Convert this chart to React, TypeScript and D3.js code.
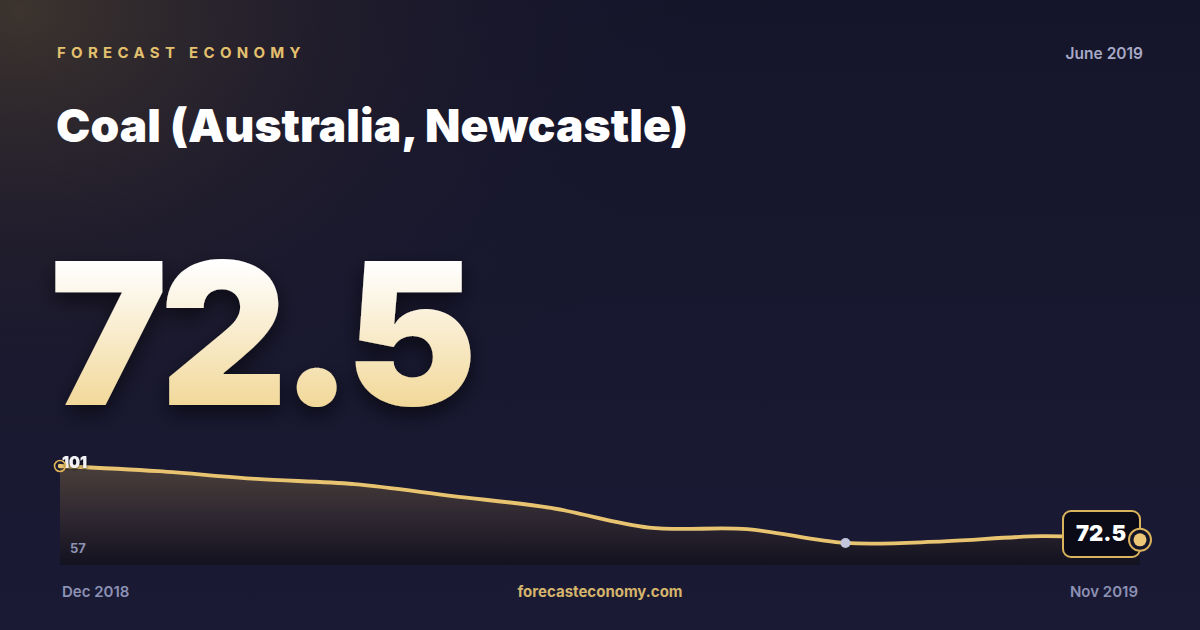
import React from "react";
import * as d3 from "d3";

const months = ["Dec 2018","Jan 2019","Feb 2019","Mar 2019","Apr 2019","May 2019","Jun 2019","Jul 2019","Aug 2019","Sep 2019","Oct 2019","Nov 2019"];
const values = [101, 99.0, 96.0, 94.0, 89.4, 84.8, 77.2, 76.6, 71.3, 71.9, 73.9, 72.5];
const yLabels = [57, 101];
const brand = "FORECAST ECONOMY";
const title = "Coal (Australia, Newcastle)";
const dateLabel = "June 2019";
const site = "forecasteconomy.com";
const bigValue = "72.5";

const W = 1200, H = 630;

export default function App() {
  const x = d3.scalePoint<string>().domain(months).range([60, 1140]);
  const y = d3.scaleLinear().domain([yLabels[0], yLabels[1]]).range([580, 466]);
  const base = 565;
  const pts = months.map((m, i) => ({ m, v: values[i] }));
  const line = d3.line<any>().x(d => x(d.m)!).y(d => y(d.v)).curve(d3.curveCatmullRom.alpha(0.5));
  const area = d3.area<any>().x(d => x(d.m)!).y0(base).y1(d => y(d.v)).curve(d3.curveCatmullRom.alpha(0.5));
  const minI = values.indexOf(d3.min(values)!);
  const last = pts[pts.length - 1];
  const first = pts[0];
  const lx = x(last.m)!, ly = y(last.v);
  const fx = x(first.m)!, fy = y(first.v);
  const font = "Inter, 'Noto Sans', sans-serif";
  return (
    <svg width={W} height={H} style={{ position: "absolute", left: 0, top: 0, display: "block" }} xmlns="http://www.w3.org/2000/svg">
      <defs>
        <radialGradient id="glow" cx="0" cy="0" r="1" gradientUnits="userSpaceOnUse" gradientTransform="translate(20,10) scale(700,520)">
          <stop offset="0" stopColor="#3d342e" stopOpacity="1" />
          <stop offset="0.45" stopColor="#241f2c" stopOpacity="0.7" />
          <stop offset="1" stopColor="#16162c" stopOpacity="0" />
        </radialGradient>
        <linearGradient id="bg" x1="0" y1="0" x2="0" y2="1">
          <stop offset="0" stopColor="#15152a" />
          <stop offset="1" stopColor="#1a1a35" />
        </linearGradient>
        <linearGradient id="big" x1="0" y1="262" x2="0" y2="408" gradientUnits="userSpaceOnUse">
          <stop offset="0" stopColor="#ffffff" />
          <stop offset="1" stopColor="#f2d898" />
        </linearGradient>
        <linearGradient id="areaFill" x1="0" y1="466" x2="0" y2="565" gradientUnits="userSpaceOnUse">
          <stop offset="0" stopColor="#4a3f3a" stopOpacity="1" />
          <stop offset="0.55" stopColor="#2d2630" stopOpacity="1" />
          <stop offset="1" stopColor="#131220" stopOpacity="1" />
        </linearGradient>
        <filter id="shadow" x="-10%" y="-10%" width="120%" height="130%">
          <feDropShadow dx="0" dy="8" stdDeviation="10" floodColor="#000000" floodOpacity="0.55" />
        </filter>
        <filter id="tshadow" x="-20%" y="-40%" width="140%" height="180%">
          <feDropShadow dx="0" dy="1" stdDeviation="1.5" floodColor="#000000" floodOpacity="0.8" />
        </filter>
      </defs>
      <rect width={W} height={H} fill="url(#bg)" />
      <rect width={W} height={H} fill="url(#glow)" />

      <text x={57} y={58} fill="#e3c06e" fontFamily={font} fontWeight={700} fontSize={15} letterSpacing={5.3}>{brand}</text>
      <text x={1143} y={59} textAnchor="end" fill="#a7a9c6" fontFamily={font} fontWeight={600} fontSize={15.5}>{dateLabel}</text>
      <text x={56} y={142} fill="#ffffff" fontFamily={font} fontWeight={900} fontSize={46} letterSpacing={0.05}>{title}</text>

      <text x={50} y={405} fill="url(#big)" fontFamily={font} fontWeight={900} fontSize={198} letterSpacing={-8} filter="url(#shadow)">{bigValue}</text>

      <path d={area(pts)!} fill="url(#areaFill)" />
      <path d={line(pts)!} fill="none" stroke="#e8c471" strokeWidth={3.8} strokeLinejoin="round" strokeLinecap="round" />

      <text x={62} y={468} fill="#f2f2f6" fontFamily={font} fontWeight={900} fontSize={15.5} filter="url(#tshadow)">{String(yLabels[1])}</text>
      <text x={70} y={553} fill="#8d91b3" fontFamily={font} fontWeight={700} fontSize={13}>{String(yLabels[0])}</text>

      <circle cx={fx} cy={fy} r={5.5} fill="none" stroke="#e0b458" strokeWidth={1.6} />
      <circle cx={fx} cy={fy} r={2.2} fill="#e8c471" />

      <circle cx={x(months[minI])!} cy={y(values[minI])} r={5} fill="#c2c5dc" />

      <rect x={lx - 77} y={511} width={77} height={46} rx={8} fill="#0b0b18" stroke="#d9b45c" strokeWidth={2} />
      <text x={lx - 39} y={541} textAnchor="middle" fill="#ffffff" fontFamily={font} fontWeight={900} fontSize={22}>{bigValue}</text>
      <circle cx={lx} cy={ly} r={11} fill="#15152a" stroke="#d9b45c" strokeWidth={2} />
      <circle cx={lx} cy={ly} r={6.5} fill="#ebc777" />

      <text x={62} y={597} fill="#8d91b3" fontFamily={font} fontWeight={600} fontSize={15}>{months[0]}</text>
      <text x={600} y={597} textAnchor="middle" fill="#d5b46b" fontFamily={font} fontWeight={700} fontSize={15}>{site}</text>
      <text x={1138} y={597} textAnchor="end" fill="#8d91b3" fontFamily={font} fontWeight={600} fontSize={15}>{months[months.length - 1]}</text>
    </svg>
  );
}
